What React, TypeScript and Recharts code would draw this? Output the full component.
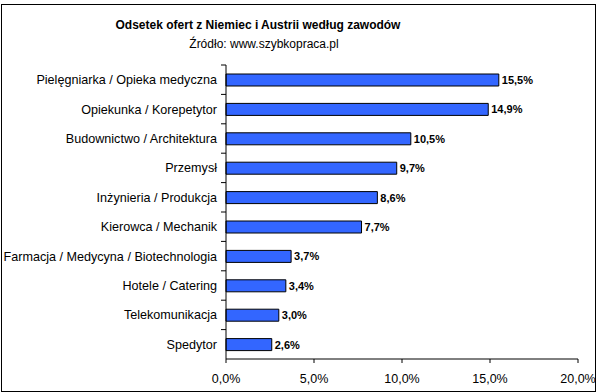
import { BarChart, Bar, XAxis, YAxis, LabelList } from 'recharts';

const categories = [
    'Pielęgniarka / Opieka medyczna',
    'Opiekunka / Korepetytor',
    'Budownictwo / Architektura',
    'Przemysł',
    'Inżynieria / Produkcja',
    'Kierowca / Mechanik',
    'Farmacja / Medycyna / Biotechnologia',
    'Hotele / Catering',
    'Telekomunikacja',
    'Spedytor',
];
const shares = [15.5, 14.9, 10.5, 9.7, 8.6, 7.7, 3.7, 3.4, 3.0, 2.6];
const xTicks = [0, 5, 10, 15, 20];

const data = categories.map((name, i) => ({ name, value: shares[i] }));

const pct = (v: number) => `${Number(v).toFixed(1).replace('.', ',')}%`;

const FONT = '"Liberation Sans", Arial, sans-serif';
const TICK_MARGIN = 9;

const CategoryTick = (props: any) => {
    const { x, y, payload } = props;
    const half = payload?.offset ?? 0;
    const axisX = x + TICK_MARGIN;
    return (
        <g>
            <line x1={axisX - 5} x2={axisX} y1={y - half} y2={y - half} stroke="#000" />
            <text x={x} y={y} dy="0.35em" textAnchor="end" fontSize={12.6} fill="#000" fontFamily={FONT}>
                {payload.value}
            </text>
        </g>
    );
};

const App = () => {
    return (
        <div style={{ position: 'absolute', left: 0, top: 0, width: 599, height: 392, background: '#fff', fontFamily: FONT }}>
            <div style={{ position: 'absolute', left: 1, top: 4, width: 595, height: 388, border: '1px solid #000', boxSizing: 'border-box' }} />
            <div style={{ position: 'absolute', left: 0, width: 516, top: 16, textAlign: 'center', fontSize: 12, fontWeight: 'bold', lineHeight: '18px' }}>
                Odsetek ofert z Niemiec i Austrii według zawodów
            </div>
            <div style={{ position: 'absolute', left: 0, width: 528, top: 35, textAlign: 'center', fontSize: 12, lineHeight: '18px' }}>
                Źródło: www.szybkopraca.pl
            </div>
            <BarChart
                width={599}
                height={392}
                data={data}
                layout="vertical"
                margin={{ top: 65, right: 21, bottom: 0, left: 0 }}
                style={{ position: 'absolute', left: 0, top: 0 }}
            >
                <XAxis
                    type="number"
                    domain={[0, 20]}
                    ticks={xTicks}
                    tickFormatter={pct}
                    axisLine={{ stroke: '#000' }}
                    tickLine={{ stroke: '#000' }}
                    tickSize={4}
                    tickMargin={11}
                    height={33}
                    tick={{ fill: '#000', fontSize: 12.5, fontFamily: FONT }}
                    interval={0}
                />
                <YAxis
                    type="category"
                    dataKey="name"
                    width={226}
                    axisLine={{ stroke: '#000' }}
                    tickLine={false}
                    tickSize={0}
                    tickMargin={TICK_MARGIN}
                    tick={<CategoryTick />}
                    interval={0}
                />
                <Bar dataKey="value" fill="#3366FF" stroke="#000" strokeWidth={1} barSize={12} isAnimationActive={false}>
                    <LabelList
                        dataKey="value"
                        position="right"
                        offset={3}
                        formatter={(v: any) => pct(v)}
                        style={{ fill: '#000', fontSize: 11, fontWeight: 'bold', fontFamily: FONT }}
                    />
                </Bar>
            </BarChart>
        </div>
    );
};

export default App;
